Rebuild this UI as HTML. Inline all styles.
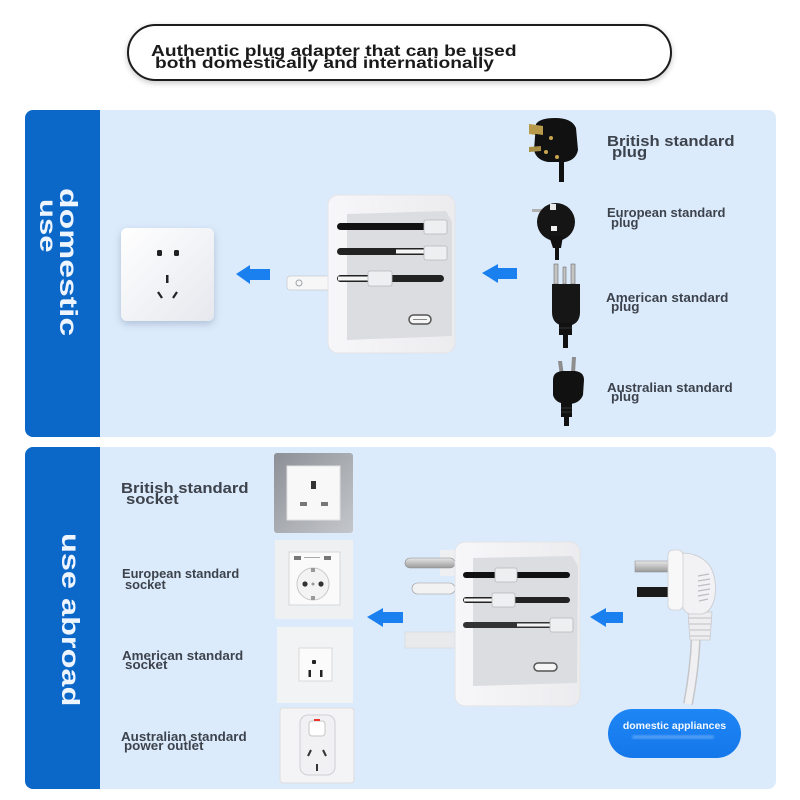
<!DOCTYPE html>
<html><head><meta charset="utf-8"><style>
html,body{margin:0;padding:0;background:#fff;}
svg{display:block;}
text{font-family:"Liberation Sans","Noto Sans CJK SC",sans-serif;font-weight:bold;}
</style></head><body>
<svg width="800" height="800" viewBox="0 0 800 800" xmlns="http://www.w3.org/2000/svg">
<defs>
 <filter id="sh" x="-20%" y="-30%" width="140%" height="170%"><feDropShadow dx="0" dy="2" stdDeviation="3" flood-color="#000" flood-opacity="0.22"/></filter>
 <filter id="sh2" x="-20%" y="-20%" width="140%" height="150%"><feDropShadow dx="0" dy="3" stdDeviation="4" flood-color="#5a7090" flood-opacity="0.35"/></filter>
 <filter id="blur1"><feGaussianBlur stdDeviation="1"/></filter>
 <filter id="blur2"><feGaussianBlur stdDeviation="2"/></filter>
 <linearGradient id="sock" x1="0" y1="0" x2="1" y2="1"><stop offset="0" stop-color="#ffffff"/><stop offset="1" stop-color="#e6e8ee"/></linearGradient>
 <linearGradient id="gray" x1="0" y1="0" x2="1" y2="1"><stop offset="0" stop-color="#8c9096"/><stop offset="0.5" stop-color="#a9acb1"/><stop offset="1" stop-color="#c3c6ca"/></linearGradient>
 <linearGradient id="body" x1="0" y1="0" x2="1" y2="0"><stop offset="0" stop-color="#f7f7f9"/><stop offset="1" stop-color="#ececef"/></linearGradient>
 <linearGradient id="metal" x1="0" y1="0" x2="0" y2="1"><stop offset="0" stop-color="#e6e6e6"/><stop offset="1" stop-color="#9a9a9a"/></linearGradient>
 <linearGradient id="pill" x1="0" y1="0" x2="0" y2="1"><stop offset="0" stop-color="#1f86f5"/><stop offset="1" stop-color="#1477ea"/></linearGradient>
</defs>

<!-- Title pill -->
<rect x="128" y="25" width="543" height="55" rx="27.5" fill="#fff" stroke="#1e1e1e" stroke-width="2" filter="url(#sh)"/>
<text transform="translate(151,56) scale(1.2,1)" font-size="16" fill="#1a1a1a">Authentic plug adapter that can be used</text>
<text transform="translate(155,68) scale(1.2,1)" font-size="16" fill="#1a1a1a">both domestically and internationally</text>

<!-- Top panel -->
<rect x="25" y="110" width="751" height="327" rx="8" fill="#dcebfb"/>
<path d="M33,110 H100 V437 H33 A8,8 0 0 1 25,429 V118 A8,8 0 0 1 33,110 Z" fill="#0c68c8"/>
<text transform="translate(60,188) rotate(90) scale(1.35,1)" font-size="25" fill="#eef5ff">domestic</text>
<text transform="translate(40,199) rotate(90) scale(1.35,1)" font-size="23" fill="#eef5ff">use</text>

<!-- Chinese socket -->
<rect x="121" y="228" width="93" height="93" rx="6" fill="url(#sock)" filter="url(#sh2)"/>
<rect x="157" y="250" width="5" height="6" rx="1.5" fill="#222"/>
<rect x="174" y="250" width="5" height="6" rx="1.5" fill="#222"/>
<rect x="166" y="275" width="2.5" height="8" fill="#222"/>
<line x1="158" y1="292" x2="162" y2="298" stroke="#222" stroke-width="2.2"/>
<line x1="177" y1="292" x2="173" y2="298" stroke="#222" stroke-width="2.2"/>

<!-- arrows top -->
<polygon points="236,274 250,265 250,269 270,269 270,280 250,280 250,284" fill="#1a80f0"/>
<polygon points="482,273 498,264 498,268 517,268 517,279 498,279 498,283" fill="#1a80f0"/>

<!-- Top adapter -->
<rect x="287" y="276" width="46" height="14" rx="3" fill="#f7f7f8" stroke="#c9cbd0" stroke-width="0.8"/>
<circle cx="299" cy="283" r="3" fill="none" stroke="#a0a4a8" stroke-width="1"/>
<rect x="328" y="195" width="127" height="158" rx="10" fill="url(#body)" stroke="#e2e3e6" stroke-width="1"/>
<path d="M347,214 L446,211 L452,222 L452,336 L347,340 Z" fill="#dcdde1"/>
<rect x="337" y="223" width="92" height="7" rx="3.5" fill="#111"/>
<rect x="424" y="220" width="23" height="14" rx="2" fill="#eeeff1" stroke="#b5b7bb" stroke-width="0.8"/>
<rect x="337" y="248" width="92" height="7" rx="3.5" fill="#222"/>
<rect x="396" y="249.5" width="33" height="4" fill="#f5f5f5"/>
<rect x="424" y="246" width="23" height="14" rx="2" fill="#eeeff1" stroke="#b5b7bb" stroke-width="0.8"/>
<rect x="337" y="275" width="107" height="7" rx="3.5" fill="#222"/>
<rect x="338" y="276.5" width="32" height="4" fill="#f5f5f5"/>
<rect x="368" y="271" width="24" height="15" rx="2" fill="#eeeff1" stroke="#b5b7bb" stroke-width="0.8"/>
<rect x="409" y="315" width="22" height="9" rx="4.5" fill="#f5f5f5" stroke="#555" stroke-width="1.5"/>
<line x1="413" y1="319.5" x2="427" y2="319.5" stroke="#888" stroke-width="1"/>

<!-- British plug -->
<polygon points="529,124 544,126 544,136 529,134" fill="#b89a4a"/>
<path d="M536,124 Q540,118 555,118 Q572,118 576,128 L578,150 Q576,160 565,162 L548,162 Q536,160 534,150 Z" fill="#111"/>
<polygon points="529,124 543,126 543,135 529,133" fill="#b89a4a"/>
<polygon points="529,147 541,146 541,151 529,152" fill="#a88d44"/>
<circle cx="551" cy="138" r="2" fill="#c9a54f"/>
<circle cx="546" cy="152" r="2" fill="#c9a54f"/>
<circle cx="557" cy="157" r="2" fill="#c9a54f"/>
<rect x="559" y="160" width="5" height="22" fill="#111"/>

<!-- European plug -->
<rect x="532" y="209" width="13" height="3" fill="#b0b0b0"/>
<circle cx="556" cy="222" r="19" fill="#151515"/>
<rect x="550" y="204" width="6" height="6" fill="#e8e8e8"/>
<rect x="551" y="226" width="6" height="5" fill="#eee"/>
<path d="M549,236 L563,236 L561,248 L553,248 Z" fill="#111"/>
<rect x="555" y="246" width="4" height="14" fill="#111"/>

<!-- American plug -->
<rect x="554" y="264" width="4" height="20" fill="#c4c4c4" stroke="#555" stroke-width="0.5"/>
<rect x="563" y="267" width="3" height="17" fill="#c4c4c4" stroke="#555" stroke-width="0.5"/>
<rect x="571" y="264" width="4" height="20" fill="#c4c4c4" stroke="#555" stroke-width="0.5"/>
<path d="M552,284 L580,284 L580,312 Q580,322 572,325 L560,325 Q552,322 552,312 Z" fill="#161616"/>
<rect x="559" y="323" width="13" height="12" fill="#111"/>
<line x1="559" y1="328" x2="572" y2="328" stroke="#333" stroke-width="1"/>
<rect x="563" y="333" width="5" height="15" fill="#111"/>

<!-- Australian plug -->
<polygon points="558,361 562,361 564,376 560,376" fill="#8e8e8e"/>
<polygon points="572,357 576,357 575,373 571,373" fill="#8e8e8e"/>
<path d="M553,380 Q553,372 562,371 L575,371 Q584,372 584,380 L583,395 Q580,403 570,404 L566,404 Q555,403 553,395 Z" fill="#111"/>
<rect x="561" y="403" width="11" height="14" fill="#111"/>
<line x1="561" y1="408" x2="572" y2="408" stroke="#333"/>
<line x1="561" y1="412" x2="572" y2="412" stroke="#333"/>
<rect x="564" y="415" width="5" height="11" fill="#111"/>

<!-- plug labels -->
<g fill="#3d434d">
<text transform="translate(607,146) scale(1.11,1)" font-size="15">British standard</text>
<text transform="translate(612,157) scale(1.11,1)" font-size="15">plug</text>
<text transform="translate(607,217) scale(1.04,1)" font-size="12.5">European standard</text>
<text transform="translate(611,227) scale(1.04,1)" font-size="12.5">plug</text>
<text transform="translate(606,302) scale(1.04,1)" font-size="13">American standard</text>
<text transform="translate(611,311) scale(1.04,1)" font-size="13">plug</text>
<text transform="translate(607,392) scale(1.03,1)" font-size="13">Australian standard</text>
<text transform="translate(611,401) scale(1.03,1)" font-size="13">plug</text>
</g>

<!-- Bottom panel -->
<rect x="25" y="447" width="751" height="342" rx="8" fill="#dcebfb"/>
<path d="M33,447 H100 V789 H33 A8,8 0 0 1 25,781 V455 A8,8 0 0 1 33,447 Z" fill="#0c68c8"/>
<text transform="translate(62,533) rotate(90) scale(1.3,1)" font-size="25" fill="#eef5ff">use abroad</text>

<g fill="#3d434d">
<text transform="translate(121,493) scale(1.11,1)" font-size="15">British standard</text>
<text transform="translate(126,504) scale(1.11,1)" font-size="15">socket</text>
<text transform="translate(122,578) scale(1.03,1)" font-size="12.5">European standard</text>
<text transform="translate(125,589) scale(1.03,1)" font-size="12.5">socket</text>
<text transform="translate(122,660) scale(1.03,1)" font-size="13">American standard</text>
<text transform="translate(125,669) scale(1.03,1)" font-size="13">socket</text>
<text transform="translate(121,741) scale(1.03,1)" font-size="13">Australian standard</text>
<text transform="translate(124,750) scale(1.03,1)" font-size="13">power outlet</text>
</g>

<!-- British socket -->
<rect x="274" y="453" width="79" height="80" rx="3" fill="url(#gray)"/>
<rect x="287" y="466" width="53" height="54" fill="#f8f8f8" stroke="#e0e0e0"/>
<rect x="311" y="481" width="5" height="8" fill="#333"/>
<rect x="300" y="502" width="7" height="4" fill="#777"/>
<rect x="321" y="502" width="7" height="4" fill="#777"/>

<!-- European socket -->
<rect x="275" y="540" width="78" height="79" fill="#eef0f2"/>
<rect x="289" y="552" width="51" height="53" fill="#fafafa" stroke="#d8d8d8"/>
<rect x="294" y="556" width="7" height="4" fill="#777"/>
<rect x="324" y="556" width="7" height="4" fill="#777"/>
<rect x="304" y="557" width="16" height="1" fill="#aaa"/>
<circle cx="313" cy="584" r="16" fill="#f3f3f3" stroke="#c8c8c8"/>
<rect x="311" y="568" width="4" height="4" fill="#999"/>
<rect x="311" y="596" width="4" height="4" fill="#999"/>
<circle cx="305" cy="584" r="2.6" fill="#333"/>
<circle cx="321" cy="584" r="2.6" fill="#333"/>
<circle cx="313" cy="584" r="1.5" fill="#999"/>

<!-- American socket -->
<rect x="277" y="627" width="76" height="76" fill="#f2f3f4"/>
<rect x="299" y="648" width="33" height="33" fill="#fbfbfb" stroke="#dadada"/>
<rect x="312" y="660" width="4" height="4" rx="1" fill="#222"/>
<rect x="308.5" y="670" width="2.5" height="7" fill="#222"/>
<rect x="320" y="670" width="2.5" height="7" fill="#222"/>

<!-- Australian socket -->
<rect x="280" y="708" width="74" height="75" rx="3" fill="#f4f4f6" stroke="#dcdcdf"/>
<rect x="300" y="715" width="35" height="60" rx="8" fill="#f1f1f3" stroke="#cfcfd4"/>
<rect x="309" y="721" width="16" height="15" rx="3" fill="#fff" stroke="#c6c6c6"/>
<rect x="314" y="719" width="6" height="2" fill="#e33"/>
<line x1="311" y1="750" x2="308" y2="756" stroke="#333" stroke-width="2"/>
<line x1="323" y1="750" x2="326" y2="756" stroke="#333" stroke-width="2"/>
<line x1="317" y1="764" x2="317" y2="771" stroke="#333" stroke-width="2"/>

<!-- arrows bottom -->
<polygon points="367,617 383,608 383,612 403,612 403,623 383,623 383,627" fill="#1a80f0"/>
<polygon points="590,617 606,608 606,612 623,612 623,623 606,623 606,627" fill="#1a80f0"/>

<!-- Bottom adapter -->
<rect x="440" y="550" width="18" height="26" fill="#eeeff1"/>
<rect x="405" y="558" width="50" height="10" rx="5" fill="url(#metal)" stroke="#8a8a8a" stroke-width="0.6"/>
<rect x="412" y="583" width="43" height="11" rx="5.5" fill="#f2f2f2" stroke="#9a9a9a" stroke-width="0.6"/>
<rect x="405" y="632" width="52" height="16" fill="#e9eaec" stroke="#d5d6d9" stroke-width="0.6"/>
<rect x="455" y="542" width="125" height="164" rx="10" fill="url(#body)" stroke="#e2e3e6"/>
<path d="M473,558 L572,556 L578,566 L577,683 L473,686 Z" fill="#dcdde1"/>
<rect x="463" y="572" width="107" height="6" rx="3" fill="#111"/>
<rect x="495" y="568" width="22" height="14" rx="2" fill="#eeeff1" stroke="#b5b7bb" stroke-width="0.8"/>
<rect x="463" y="597" width="107" height="6" rx="3" fill="#222"/>
<rect x="464" y="598.5" width="30" height="3" fill="#f5f5f5"/>
<rect x="492" y="593" width="23" height="14" rx="2" fill="#eeeff1" stroke="#b5b7bb" stroke-width="0.8"/>
<rect x="463" y="622" width="107" height="6" rx="3" fill="#333"/>
<rect x="517" y="623.5" width="35" height="3" fill="#f5f5f5"/>
<rect x="550" y="618" width="23" height="14" rx="2" fill="#eeeff1" stroke="#b5b7bb" stroke-width="0.8"/>
<rect x="534" y="663" width="23" height="8" rx="4" fill="#f5f5f5" stroke="#555" stroke-width="1.5"/>

<!-- White plug -->
<rect x="635" y="561" width="34" height="11" fill="url(#metal)" stroke="#888" stroke-width="0.5"/>
<rect x="637" y="587" width="32" height="10" fill="#1a1a1a"/>
<path d="M696,632 Q695,668 688,704" stroke="#c4c6ca" stroke-width="10" fill="none"/>
<path d="M696,632 Q695,668 688,704" stroke="#f0f0f2" stroke-width="7" fill="none"/>
<path d="M688,612 L712,612 L710,640 L690,640 Z" fill="#eeeef0" stroke="#c8c8cc" stroke-width="0.8"/>
<line x1="689" y1="618" x2="711" y2="618" stroke="#c0c0c4"/>
<line x1="689" y1="624" x2="711" y2="624" stroke="#c0c0c4"/>
<line x1="690" y1="630" x2="710" y2="630" stroke="#c0c0c4"/>
<line x1="690" y1="636" x2="710" y2="636" stroke="#c0c0c4"/>
<path d="M682,553 Q700,553 710,566 Q717,578 715,596 Q712,612 702,614 L690,614 Q683,612 682,604 Z" fill="#f2f2f4" stroke="#c9c9cd" stroke-width="0.8"/>
<rect x="668" y="550" width="15" height="60" rx="5" fill="#f8f8f9" stroke="#cfcfd3" stroke-width="0.8"/>
<g stroke="#bdbdc2" stroke-width="1.2">
<line x1="698" y1="576" x2="709" y2="574"/>
<line x1="698" y1="581" x2="710" y2="579"/>
<line x1="698" y1="586" x2="710" y2="584"/>
<line x1="698" y1="591" x2="710" y2="589"/>
<line x1="698" y1="596" x2="709" y2="594"/>
<line x1="699" y1="601" x2="708" y2="599"/>
</g>

<!-- domestic appliances pill -->
<rect x="608" y="709" width="133" height="49" rx="24.5" fill="url(#pill)"/>
<rect x="632" y="735" width="82" height="4" rx="2" fill="#6fb2fa" opacity="0.6" filter="url(#blur1)"/>
<text x="674.5" y="729" font-size="10.5" fill="#f4f9ff" text-anchor="middle">domestic appliances</text>
</svg>
</body></html>
